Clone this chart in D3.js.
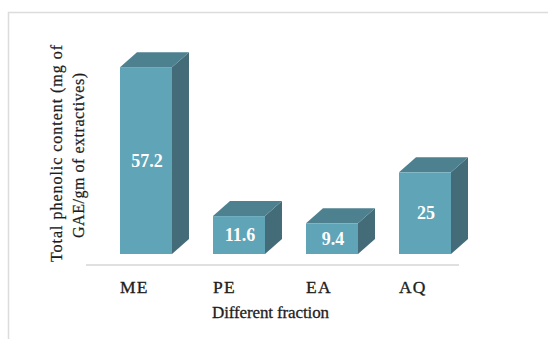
<!DOCTYPE html>
<html>
<head>
<meta charset="utf-8">
<script src="https://cdn.jsdelivr.net/npm/d3@7"></script>
<style>
  html, body { margin: 0; padding: 0; background: #fff; }
  svg { display: block; }
  svg text { font-family: "Liberation Serif", "Tinos", "Times New Roman", serif; }
</style>
</head>
<body>
<svg id="chart" width="548" height="339"></svg>
<script>
// Total phenolic content per fraction
const categories = ["ME", "PE", "EA", "AQ"];
const values = [57.2, 11.6, 9.4, 25];
const valueLabels = ["57.2", "11.6", "9.4", "25"];
const xTitle = "Different fraction";
const yTitleLines = ["Total phenolic content (mg of", "GAE/gm of extractives)"];

const svg = d3.select("#chart");
const W = 548, H = 339;
const ink = "#1e1e1e";

// outer frame (top and left edges)
svg.append("path")
  .attr("d", `M8.5,${H} L8.5,12.5 L${W},12.5`)
  .attr("fill", "none")
  .attr("stroke", "#dcdcdc")
  .attr("stroke-width", 1.5);

const x = d3.scaleBand()
  .domain(categories)
  .range([120, 451])
  .paddingInner(0.441)
  .paddingOuter(0);

const y = d3.scaleLinear()
  .domain([0, 60])
  .range([254, 58]);

// 3D depth offsets
const dx = 17, dy = 15;

const colors = { front: "#60a4b7", top: "#4e8190", side: "#436c78" };

// floor line
svg.append("line")
  .attr("x1", 86).attr("x2", 459)
  .attr("y1", 265).attr("y2", 265)
  .attr("stroke", "#e0e0e0")
  .attr("stroke-width", 2);

const data = categories.map((c, i) => ({ c, v: values[i], label: valueLabels[i] }));

const bars = svg.append("g").selectAll("g")
  .data(data)
  .join("g");

// side face
bars.append("path")
  .attr("fill", colors.side)
  .attr("d", d => {
    const x1 = x(d.c) + x.bandwidth(), yt = y(d.v), yb = y(0);
    return `M${x1},${yt} L${x1 + dx},${yt - dy} L${x1 + dx},${yb - dy} L${x1},${yb} Z`;
  });

// top face
bars.append("path")
  .attr("fill", colors.top)
  .attr("d", d => {
    const x0 = x(d.c), x1 = x0 + x.bandwidth(), yt = y(d.v);
    return `M${x0},${yt} L${x0 + dx},${yt - dy} L${x1 + dx},${yt - dy} L${x1},${yt} Z`;
  });

// front face
bars.append("rect")
  .attr("fill", colors.front)
  .attr("x", d => x(d.c))
  .attr("y", d => y(d.v))
  .attr("width", x.bandwidth())
  .attr("height", d => y(0) - y(d.v));

// value labels
bars.append("text")
  .attr("x", d => x(d.c) + x.bandwidth() / 2 + 1)
  .attr("y", d => (y(d.v) + y(0)) / 2)
  .attr("dy", "0.35em")
  .attr("text-anchor", "middle")
  .attr("fill", "#ffffff")
  .attr("font-weight", "bold")
  .attr("font-size", 18)
  .text(d => d.label);

// category labels
svg.append("g").selectAll("text")
  .data(categories)
  .join("text")
  .attr("x", d => x(d))
  .attr("y", 293)
  .attr("fill", ink)
  .attr("stroke", ink)
  .attr("stroke-width", 0.35)
  .attr("font-size", 17.5)
  .attr("letter-spacing", 1.2)
  .text(d => d);

// x axis title
svg.append("text")
  .attr("x", 212)
  .attr("y", 318)
  .attr("fill", ink)
  .attr("stroke", ink)
  .attr("stroke-width", 0.3)
  .attr("font-size", 17)
  .attr("textLength", 117)
  .attr("lengthAdjust", "spacing")
  .text(xTitle);

// y axis title (two rotated lines)
const yTitlePos = [{ bx: 62, cy: 153.5, len: 217 }, { bx: 84, cy: 155.5, len: 165 }];
svg.append("g").selectAll("text")
  .data(yTitleLines)
  .join("text")
  .attr("transform", (d, i) => `translate(${yTitlePos[i].bx},${yTitlePos[i].cy}) rotate(-90)`)
  .attr("text-anchor", "middle")
  .attr("fill", ink)
  .attr("stroke", ink)
  .attr("stroke-width", 0.25)
  .attr("font-size", 16)
  .attr("textLength", (d, i) => yTitlePos[i].len)
  .attr("lengthAdjust", "spacing")
  .text(d => d);
</script>
</body>
</html>
